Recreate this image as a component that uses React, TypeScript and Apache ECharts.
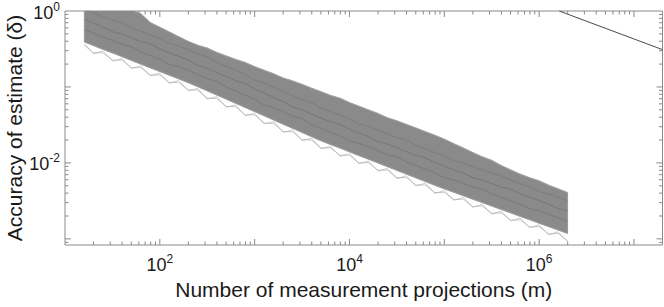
import React, { useEffect, useRef } from "react";
import * as echarts from "echarts";

// Number of measurement projections (m) sampled on each trial curve
const mValues = [16, 20, 25, 32, 40, 50, 63, 79, 100, 126, 158, 200, 251, 316, 398, 501, 631, 794, 1000, 1259, 1585, 1995, 2512, 3162, 3981, 5012, 6310, 7943, 10000, 12589, 15849, 19953, 25119, 31623, 39811, 50119, 63096, 79433, 100000, 125893, 158489, 199526, 251189, 316228, 398107, 501187, 630957, 794328, 1000000, 1258925, 1584893, 1995262];

// Upper edge of the bundle of trial curves (accuracy δ)
const upperEdge = [1.41, 1.33, 1.25, 1.18, 1.11, 1.04, 0.923, 0.706, 0.611, 0.53, 0.459, 0.397, 0.354, 0.325, 0.285, 0.256, 0.23, 0.21, 0.185, 0.166, 0.149, 0.131, 0.12, 0.108, 0.0964, 0.0865, 0.0774, 0.071, 0.0622, 0.0557, 0.0499, 0.0447, 0.0392, 0.0358, 0.0321, 0.0288, 0.0258, 0.0231, 0.0205, 0.0179, 0.0157, 0.0137, 0.012, 0.0108, 0.00923, 0.00809, 0.00711, 0.00637, 0.0058, 0.00509, 0.00455, 0.00407];

// Lower edge of the dense part of the bundle
const lowerEdge = [0.392, 0.351, 0.313, 0.28, 0.251, 0.224, 0.2, 0.179, 0.16, 0.143, 0.128, 0.114, 0.101, 0.0889, 0.0785, 0.0692, 0.061, 0.0537, 0.0474, 0.0418, 0.0368, 0.0324, 0.0286, 0.0252, 0.0222, 0.0196, 0.0175, 0.0157, 0.014, 0.0125, 0.0112, 0.01, 0.00893, 0.00798, 0.00713, 0.00637, 0.00569, 0.00508, 0.00456, 0.00411, 0.0037, 0.00333, 0.00301, 0.00271, 0.00244, 0.0022, 0.00198, 0.00179, 0.00161, 0.00145, 0.00131, 0.00118];

// A few individual trials visible inside the bundle
const trialInner1 = [0.568, 0.509, 0.454, 0.406, 0.364, 0.34, 0.29, 0.26, 0.232, 0.198, 0.186, 0.165, 0.146, 0.129, 0.119, 0.1, 0.0885, 0.0779, 0.0687, 0.058, 0.0534, 0.047, 0.0415, 0.038, 0.0322, 0.0284, 0.0254, 0.0228, 0.0196, 0.0181, 0.0162, 0.0145, 0.0129, 0.0121, 0.0103, 0.00924, 0.00825, 0.00737, 0.0064, 0.00596, 0.00537, 0.00483, 0.00452, 0.00393, 0.00354, 0.00319, 0.00287, 0.0025, 0.00233, 0.0021, 0.0019, 0.00171];
const trialInner2 = [0.776, 0.695, 0.62, 0.53, 0.497, 0.444, 0.396, 0.37, 0.317, 0.283, 0.253, 0.226, 0.192, 0.176, 0.155, 0.137, 0.121, 0.111, 0.0939, 0.0828, 0.0729, 0.0642, 0.0545, 0.0499, 0.044, 0.0388, 0.0347, 0.0322, 0.0277, 0.0248, 0.0222, 0.019, 0.0177, 0.0158, 0.0141, 0.0126, 0.0117, 0.0101, 0.00903, 0.00814, 0.00733, 0.0064, 0.00596, 0.00537, 0.00483, 0.0045, 0.00392, 0.00354, 0.00319, 0.00287, 0.0025, 0.00234];
const trialInner3 = [1.06, 0.948, 0.845, 0.756, 0.7, 0.605, 0.54, 0.483, 0.432, 0.372, 0.346, 0.308, 0.273, 0.25, 0.212, 0.187, 0.165, 0.145, 0.123, 0.113, 0.0994, 0.0875, 0.0772, 0.068, 0.062, 0.0529, 0.0473, 0.0424, 0.0378, 0.0326, 0.0302, 0.027, 0.0241, 0.0215, 0.02, 0.0172, 0.0154, 0.0137, 0.0123, 0.0107, 0.01, 0.00899, 0.00813, 0.00732, 0.0068, 0.00594, 0.00535, 0.00483, 0.0042, 0.00392, 0.00354, 0.00319];

// Low outlier trials (saw-tooth lines under the bundle)
const trialLowA = [0.353, 0.281, 0.282, 0.224, 0.226, 0.179, 0.18, 0.143, 0.144, 0.114, 0.115, 0.0912, 0.0909, 0.0711, 0.0707, 0.0554, 0.0549, 0.043, 0.0427, 0.0334, 0.0331, 0.0259, 0.0257, 0.0202, 0.02, 0.0157, 0.0158, 0.0126, 0.0126, 0.01, 0.0101, 0.008, 0.00804, 0.00638, 0.00642, 0.0051, 0.00512, 0.00406, 0.0041, 0.00329, 0.00333, 0.00266, 0.00271, 0.00217, 0.0022, 0.00176, 0.00178, 0.00143, 0.00145, 0.00116, 0.00118, 0.00094];
const trialLowB = [0.372, 0.274, 0.297, 0.218, 0.238, 0.175, 0.19, 0.14, 0.152, 0.112, 0.122, 0.0889, 0.096, 0.0693, 0.0746, 0.054, 0.058, 0.0419, 0.045, 0.0326, 0.035, 0.0253, 0.0272, 0.0197, 0.0211, 0.0153, 0.0166, 0.0122, 0.0133, 0.00975, 0.0106, 0.0078, 0.00848, 0.00622, 0.00677, 0.00497, 0.00541, 0.00396, 0.00433, 0.00321, 0.00352, 0.0026, 0.00286, 0.00211, 0.00232, 0.00172, 0.00188, 0.0014, 0.00153, 0.00113, 0.00124, 0.00092];

// Reference slope line (top right)
const refM = [1630000, 20000000];
const refDelta = [1, 0.31];

// Axis limits and decades
const X_MIN = 10;
const X_MAX = 20000000;
const Y_MIN = 0.00083;
const Y_MAX = 1;
const xDecades = [10, 100, 1000, 10000, 100000, 1000000, 10000000];
const yDecades = [0.0001, 0.001, 0.01, 0.1, 1];

const AXIS = "#8a8a8a";
const TEXT = "#1a1a1a";
const FONT = "Liberation Sans, Arial, Helvetica, sans-serif";

function pairs(ys: number[]) {
  return mValues.map((m, i) => [m, ys[i]]);
}

function buildTicks(decades: number[], lo: number, hi: number, fixed: number, isX: boolean) {
  const out: number[][] = [];
  decades.forEach((d) => {
    for (let j = 1; j <= 9; j++) {
      const v = d * j;
      if (v > lo * 1.0001 && v < hi * 0.9999) {
        out.push(isX ? [v, fixed, j === 1 ? 1 : 0] : [fixed, v, j === 1 ? 1 : 0]);
      }
    }
  });
  return out;
}

const labelFmt = (v: number) => {
  const e = Math.log10(v);
  const r = Math.round(e);
  if (Math.abs(e - r) > 1e-6 || Math.abs(r % 2) === 1) return "";
  return `{b|10}{s|${r}}`;
};

const labelRich = {
  b: { fontSize: 18, fontFamily: FONT, color: TEXT, lineHeight: 21, verticalAlign: "bottom" },
  s: { fontSize: 12, fontFamily: FONT, color: TEXT, lineHeight: 11, verticalAlign: "top" },
};

export default function App() {
  const ref = useRef<HTMLDivElement>(null);
  useEffect(() => {
    if (!ref.current) return;
    document.body.style.margin = "0";
    const chart = echarts.init(ref.current, undefined, { renderer: "svg" });

    const xTicks = buildTicks(xDecades, X_MIN, X_MAX, Y_MIN, true);
    const yTicks = buildTicks(yDecades, Y_MIN, Y_MAX, X_MIN, false);

    const lineSeries = (name: string, ys: number[], color: string, width: number) => ({
      name,
      type: "line",
      data: pairs(ys),
      symbol: "none",
      showSymbol: false,
      silent: true,
      lineStyle: { color, width },
      z: 3,
    });

    chart.setOption({
      animation: false,
      grid: {
        left: 65,
        top: 11,
        right: 1.5,
        bottom: 62,
        containLabel: false,
        outerBoundsMode: "none",
        show: true,
        borderColor: AXIS,
        borderWidth: 1,
        backgroundColor: "transparent",
      },
      xAxis: {
        type: "log",
        logBase: 10,
        min: X_MIN,
        max: X_MAX,
        axisLine: { show: false },
        axisTick: { show: false },
        splitLine: { show: false },
        axisLabel: { formatter: labelFmt, rich: labelRich, margin: 8, color: TEXT },
        name: "Number of measurement projections (m)",
        nameLocation: "middle",
        nameGap: 34,
        nameTextStyle: { fontSize: 21, color: TEXT, fontFamily: FONT },
      },
      yAxis: {
        type: "log",
        logBase: 10,
        min: Y_MIN,
        max: Y_MAX,
        axisLine: { show: false },
        axisTick: { show: false },
        splitLine: { show: false },
        axisLabel: { formatter: labelFmt, rich: labelRich, margin: 5, color: TEXT },
        name: "Accuracy of estimate (δ)",
        nameLocation: "middle",
        nameGap: 40,
        nameMoveOverlap: false,
        nameTextStyle: { fontSize: 21, color: TEXT, fontFamily: FONT },
      },
      series: [
        {
          type: "custom",
          name: "bundle",
          coordinateSystem: "cartesian2d",
          clip: true,
          silent: true,
          z: 2,
          data: [[X_MIN, Y_MIN]],
          renderItem: (_p: any, api: any) => {
            const pts: number[][] = [];
            mValues.forEach((m, i) => pts.push(api.coord([m, upperEdge[i]])));
            for (let i = mValues.length - 1; i >= 0; i--) pts.push(api.coord([mValues[i], lowerEdge[i]]));
            return {
              type: "polygon",
              shape: { points: pts },
              style: { fill: "#8a8a8a", stroke: "#9a9a9a", lineWidth: 1 },
            };
          },
        },
        lineSeries("inner1", trialInner1, "#727272", 0.7),
        lineSeries("inner2", trialInner2, "#6e6e6e", 0.7),
        lineSeries("inner3", trialInner3, "#777777", 0.7),
        lineSeries("upper", upperEdge, "#a4a4a4", 0.7),
        lineSeries("lower", lowerEdge, "#9a9a9a", 0.7),
        lineSeries("lowA", trialLowA, "#a0a0a0", 0.6),
        lineSeries("lowB", trialLowB, "#ababab", 0.6),
        {
          name: "reference",
          type: "line",
          data: refM.map((m, i) => [m, refDelta[i]]),
          symbol: "none",
          silent: true,
          lineStyle: { color: "#4a4a4a", width: 1 },
          z: 4,
        },
        {
          type: "custom",
          name: "xticks",
          coordinateSystem: "cartesian2d",
          silent: true,
          z: 5,
          encode: { x: 0, y: 1 },
          data: xTicks,
          renderItem: (_p: any, api: any) => {
            const v = api.value(0);
            const major = api.value(2);
            const b = api.coord([v, Y_MIN]);
            const t = api.coord([v, Y_MAX]);
            const len = major ? 6 : 3.5;
            return {
              type: "group",
              children: [
                { type: "line", shape: { x1: b[0], y1: b[1], x2: b[0], y2: b[1] - len }, style: { stroke: AXIS, lineWidth: 1 } },
                { type: "line", shape: { x1: t[0], y1: t[1], x2: t[0], y2: t[1] + len }, style: { stroke: AXIS, lineWidth: 1 } },
              ],
            };
          },
        },
        {
          type: "custom",
          name: "yticks",
          coordinateSystem: "cartesian2d",
          silent: true,
          z: 5,
          encode: { x: 0, y: 1 },
          data: yTicks,
          renderItem: (_p: any, api: any) => {
            const v = api.value(1);
            const major = api.value(2);
            const l = api.coord([X_MIN, v]);
            const r = api.coord([X_MAX, v]);
            const len = major ? 6 : 3.5;
            return {
              type: "group",
              children: [
                { type: "line", shape: { x1: l[0], y1: l[1], x2: l[0] + len, y2: l[1] }, style: { stroke: AXIS, lineWidth: 1 } },
                { type: "line", shape: { x1: r[0], y1: r[1], x2: r[0] - len, y2: r[1] }, style: { stroke: AXIS, lineWidth: 1 } },
              ],
            };
          },
        },
      ],
    });
    return () => chart.dispose();
  }, []);
  return <div ref={ref} style={{ width: 664, height: 307 }} />;
}
